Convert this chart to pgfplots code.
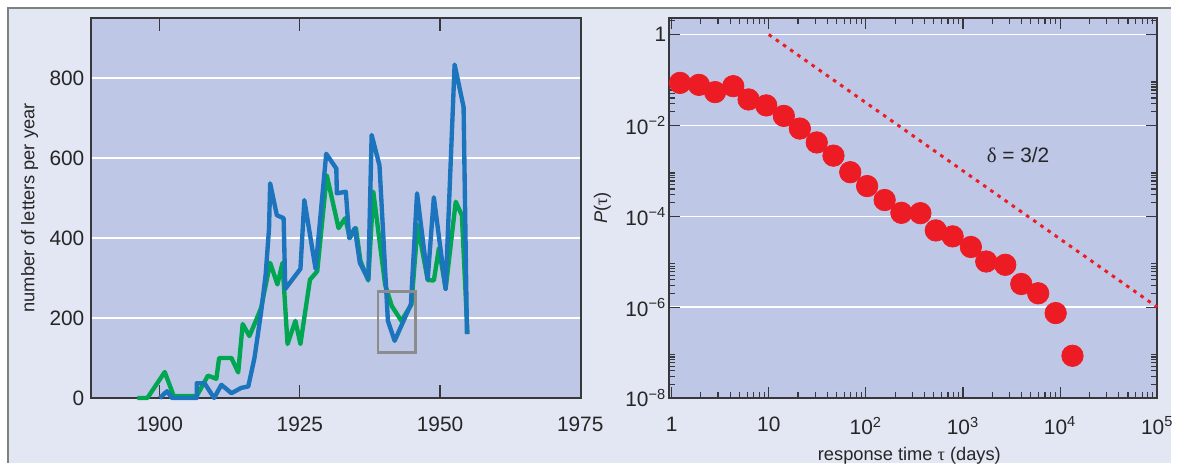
\documentclass[border=0pt]{standalone}
\usepackage{fontspec}
\setmainfont{Liberation Sans}
\newfontfamily\greek{Liberation Serif}
\usepackage{pgfplots}
\usepackage{pgfplotstable}
\pgfplotsset{compat=1.18}

\definecolor{outerbg}{RGB}{227,230,243}
\definecolor{plotbg}{RGB}{190,200,230}
\definecolor{lineblue}{RGB}{28,117,188}
\definecolor{linegreen}{RGB}{0,166,81}
\definecolor{dotred}{RGB}{237,28,36}
\definecolor{axisgray}{RGB}{55,55,60}

% letters per year, left panel
\pgfplotstableread{
year n
1896.0 0
1897.8 0
1900.9 65
1902.5 5
1906.6 5
1908.6 56
1910.1 48
1910.6 100
1912.8 100
1914.0 64
1914.8 185
1916.0 155
1917.0 188
1918.1 226
1919.7 338
1921.0 284
1921.9 338
1922.8 135
1924.2 193
1925.1 135
1926.8 296
1928.1 317
1929.8 557
1931.9 425
1933.1 450
1933.9 400
1935.0 425
1935.8 343
1937.2 294
1938.1 516
1939.3 383
1940.2 284
1941.4 230
1943.1 193
1944.9 234
1946.0 433
1947.8 295
1948.9 294
1949.8 375
1951.0 273
1952.8 491
1953.9 457
1954.9 160
}\greenletters

\pgfplotstableread{
year n
1900.0 0
1901.3 17
1902.2 0
1906.6 0
1906.6 37
1908.0 37
1909.7 0
1911.0 33
1912.8 12
1914.5 25
1915.8 29
1916.9 100
1918.1 216
1918.9 309
1919.5 424
1919.7 537
1920.9 457
1922.1 450
1922.4 273
1925.1 323
1925.8 495
1927.8 323
1929.7 611
1931.5 574
1931.6 512
1933.2 516
1933.8 400
1934.8 425
1935.7 338
1937.2 297
1937.8 658
1939.2 582
1940.7 193
1941.9 143
1944.8 234
1945.9 512
1947.8 297
1948.9 502
1951.0 273
1952.6 834
1954.2 728
1954.8 160
}\blueletters

% response time distribution, right panel
\pgfplotstableread{
tau p
1.22 0.0863
1.91 0.0781
2.80 0.0541
4.31 0.0731
6.20 0.0373
9.42 0.0276
14.3 0.0162
20.9 0.00853
31.2 0.00422
46.4 0.00216
69.0 9.34e-4
103 4.62e-4
156 2.28e-4
232 1.19e-4
364 1.17e-4
525 4.88e-5
782 3.61e-5
1205 2.11e-5
1734 1.01e-5
2723 8.55e-6
3981 3.23e-6
5943 2.02e-6
8995 7.4e-7
13400 8.5e-8
}\responsetimes

\pgfplotsset{
  panel/.style={
    scale only axis, clip=false,
    axis background/.style={fill=plotbg},
    axis line style={axisgray, line width=1pt},
    tick style={axisgray, line width=0.6pt},
    tick label style={font=\fontsize{10.5}{12}\selectfont, text=black!85},
    xticklabel style={yshift=-6pt},
    label style={font=\fontsize{9.2}{11}\selectfont, text=black!85},
    grid style={white, line width=0.75pt},
    /pgf/number format/assume math mode=true,
  }
}

\begin{document}
\begin{tikzpicture}
\fill[white] (0,0) rectangle (590pt,233pt);
\fill[outerbg] (4pt,0) rectangle (590pt,229pt);
\draw[gray, line width=0.7pt] (4pt,0) -- (4pt,229pt) -- (590pt,229pt);

\begin{axis}[panel,
    at={(46pt,32.5pt)}, anchor=south west,
    width=246.85pt, height=191.5pt,
    xmin=1887.8, xmax=1975.2, ymin=0, ymax=951,
    xtick={1900,1925,1950,1975},
    ytick={0,200,400,600,800},
    ymajorgrids,
    major tick length=6.5pt,
    ytick style={draw=none},
    /pgf/number format/1000 sep={},
    ylabel={number of letters per year},
    ylabel style={at={(axis description cs:-0.1256,0.5)}, anchor=center},
  ]
  \addplot[linegreen, line width=2.2pt, line join=round, no markers] table[x=year, y=n] {\greenletters};
  \addplot[lineblue, line width=2.2pt, line join=round, no markers] table[x=year, y=n] {\blueletters};
  \draw[gray!90, line width=1.2pt] (axis cs:1938.9,114) rectangle (axis cs:1945.6,266);
\end{axis}

\begin{axis}[panel,
    xmode=log, ymode=log,
    at={(337.15pt,32.5pt)}, anchor=south west,
    width=245.85pt, height=191.5pt,
    xmin=0.945, xmax=1e5, ymin=1e-8, ymax=2.33,
    xtick={1,10,100,1000,10000,100000},
    xticklabels={1,10,10\textsuperscript{2},10\textsuperscript{3},10\textsuperscript{4},10\textsuperscript{5}},
    minor xtick={2,3,4,5,6,7,8,9,20,30,40,50,60,70,80,90,200,300,400,500,600,700,800,900,
      2000,3000,4000,5000,6000,7000,8000,9000,20000,30000,40000,50000,60000,70000,80000,90000},
    ytick={1e-8,1e-6,1e-4,1e-2,1},
    yticklabels={10\textsuperscript{−8},10\textsuperscript{−6},10\textsuperscript{−4},10\textsuperscript{−2},1},
    yticklabel style={xshift=2pt},
    minor ytick={2e-8,3e-8,4e-8,5e-8,6e-8,7e-8,8e-8,9e-8,
      2e-6,3e-6,4e-6,5e-6,6e-6,7e-6,8e-6,9e-6,
      2e-4,3e-4,4e-4,5e-4,6e-4,7e-4,8e-4,9e-4,
      0.02,0.03,0.04,0.05,0.06,0.07,0.08,0.09,2},
    ymajorgrids,
    major tick length=5.5pt, minor tick length=3pt,
    xlabel={response time {\greek τ} (days)},
    xlabel style={at={(axis description cs:0.492,-0.1515)}, anchor=center},
    ylabel={{\itshape P}({\greek τ})},
    ylabel style={at={(axis description cs:-0.137,0.5)}, anchor=center},
  ]
  \addplot[dotred, line width=1.5pt, dash pattern=on 1.8pt off 2.6pt] coordinates {(10,1) (100000,1e-6)};
  \addplot[only marks, mark=*, mark size=5.4pt, color=dotred, mark options={draw=none, fill=dotred}] table[x=tau, y=p] {\responsetimes};
  \node[font=\fontsize{10.5}{12}\selectfont, text=black!85] at (axis cs:3690,2.23e-3) {{\greek δ} = 3/2};
\end{axis}
\end{tikzpicture}
\end{document}
